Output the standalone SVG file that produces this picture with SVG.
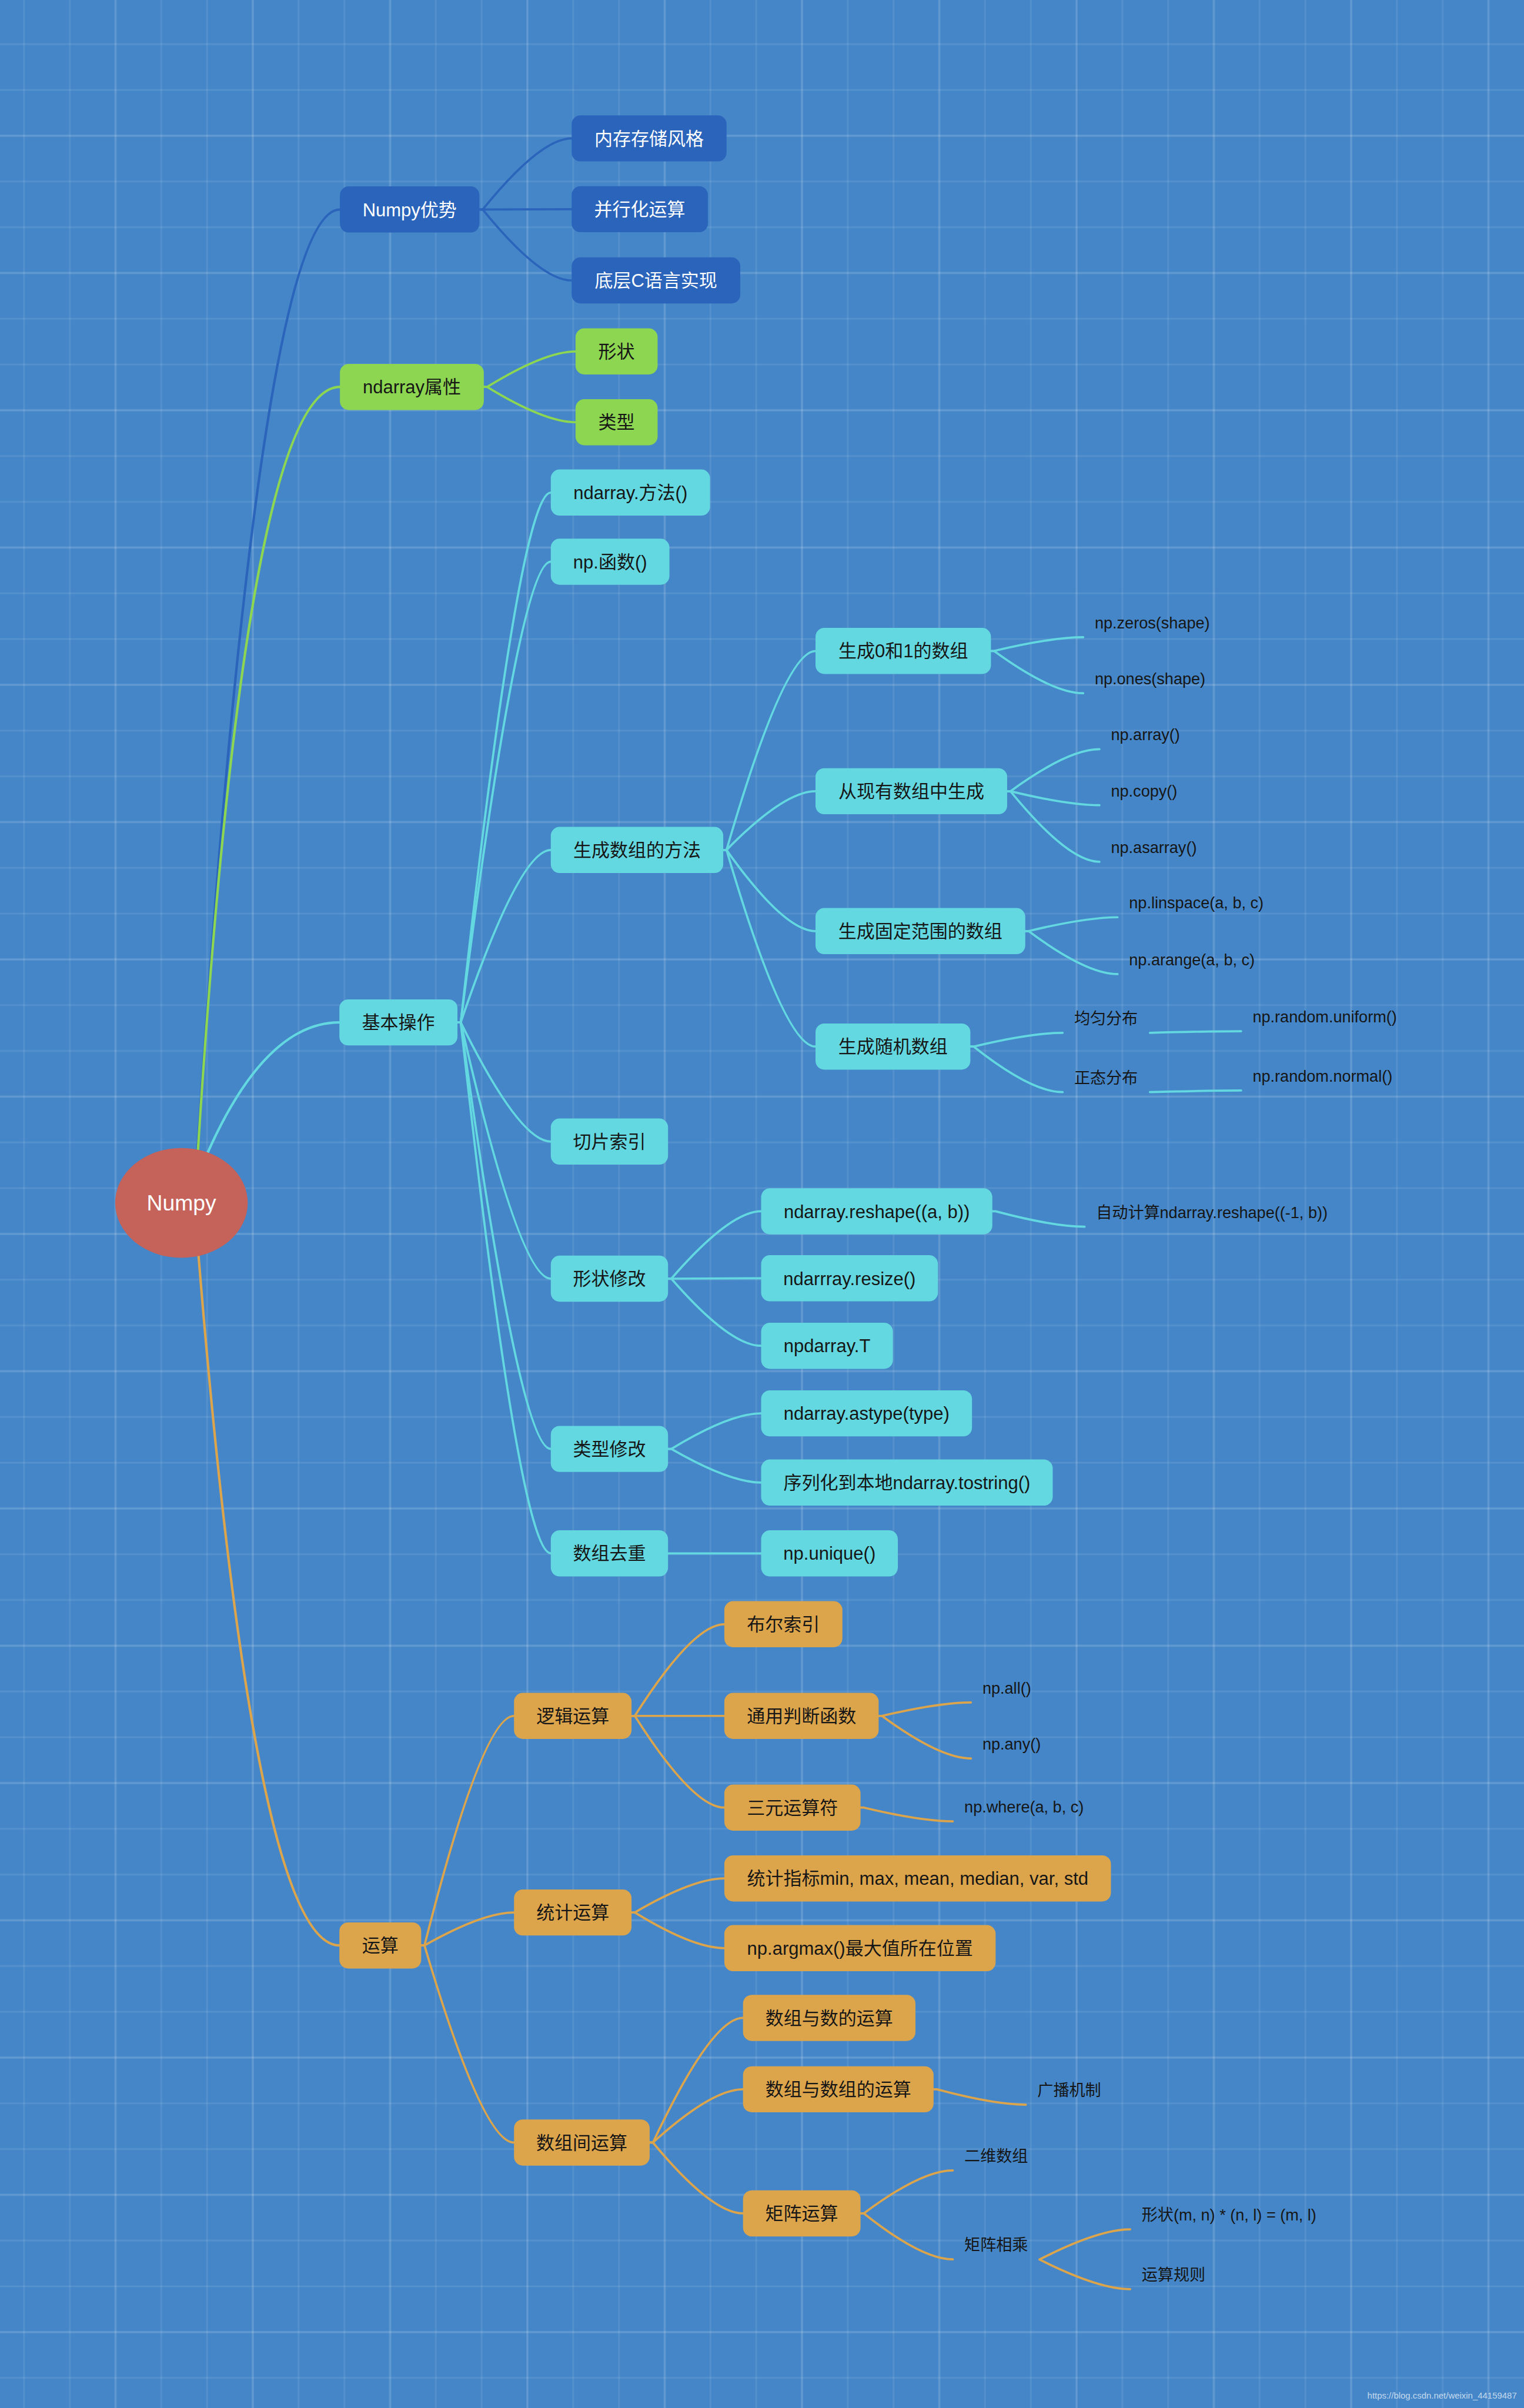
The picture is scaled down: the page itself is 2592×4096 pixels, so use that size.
<svg xmlns="http://www.w3.org/2000/svg" width="2592" height="4096" viewBox="0 0 2592 4096">
<defs>
<pattern id="grid" patternUnits="userSpaceOnUse" x="85.4" y="122.2" width="250" height="250">
<rect x="40.2" y="0" width="3" height="250" fill="#ffffff" fill-opacity="0.09"/>
<rect x="206.8" y="0" width="3" height="250" fill="#ffffff" fill-opacity="0.09"/>
<rect x="123.2" y="0" width="3.6" height="250" fill="#ffffff" fill-opacity="0.16"/>
<rect x="0" y="40.2" width="250" height="3" fill="#ffffff" fill-opacity="0.09"/>
<rect x="0" y="206.8" width="250" height="3" fill="#ffffff" fill-opacity="0.09"/>
<rect x="0" y="123.2" width="250" height="3.6" fill="#ffffff" fill-opacity="0.16"/>
</pattern>
<style>
.t{font-family:"Liberation Sans","Noto Sans CJK SC",sans-serif;font-size:33.2px;text-anchor:middle;fill:#161616}
.tw{fill:#ffffff}
.lf{font-family:"Liberation Sans","Noto Sans CJK SC",sans-serif;font-size:29px;fill:#161616}
.c{fill:none;stroke-width:4;stroke-linecap:round}
.cr{stroke-width:4.5}
.cb{stroke:#2A64BB}
.cg{stroke:#8DD651}
.cc{stroke:#63D8E0}
.co{stroke:#DCA54C}
.fb{fill:#2A64BB}
.fg{fill:#8DD651}
.fc{fill:#63D8E0}
.fo{fill:#DCA54C}
</style>
</defs>
<g transform="scale(0.934)">
<rect x="0" y="0" width="2780" height="4390" fill="#4486C8"/>
<rect x="0" y="0" width="2780" height="4390" fill="url(#grid)"/>

<g id="connectors">
<path class="c cr cb" d="M356,2150 Q470,381.5 619,381.5"/>
<path class="c cr cg" d="M357,2150 Q445,704.7 619,704.7"/>
<path class="c cr cc" d="M357,2150 Q470,1862 618,1862"/>
<path class="c cr co" d="M357,2230 Q460,3543 618,3543"/>
<path class="c cb" d="M871,381.5 L879,381.5 Q984,252 1041,252"/>
<path class="c cb" d="M871,381.5 L879,381.5 Q984,381 1041,381"/>
<path class="c cb" d="M871,381.5 L879,381.5 Q984,510.7 1041,510.7"/>
<path class="c cg" d="M879,704.7 L887,704.7 Q992,640 1048,640"/>
<path class="c cg" d="M879,704.7 L887,704.7 Q992,769 1048,769"/>
<path class="c cc" d="M831,1862 L839,1862 Q946,897 1003,897"/>
<path class="c cc" d="M831,1862 L839,1862 Q946,1023 1003,1023"/>
<path class="c cc" d="M831,1862 L839,1862 Q946,1548 1003,1548"/>
<path class="c cc" d="M831,1862 L839,1862 Q946,2079 1003,2079"/>
<path class="c cc" d="M831,1862 L839,1862 Q946,2328.7 1003,2328.7"/>
<path class="c cc" d="M831,1862 L839,1862 Q946,2638.8 1003,2638.8"/>
<path class="c cc" d="M831,1862 L839,1862 Q946,2829 1003,2829"/>
<path class="c cc" d="M1315,1548 L1323,1548 Q1428,1185.5 1485,1185.5"/>
<path class="c cc" d="M1315,1548 L1323,1548 Q1428,1441 1485,1441"/>
<path class="c cc" d="M1315,1548 L1323,1548 Q1428,1695.7 1485,1695.7"/>
<path class="c cc" d="M1315,1548 L1323,1548 Q1428,1906 1485,1906"/>
<path class="c cc" d="M1802,1185.5 L1810,1185.5 Q1916,1160.5 1972.5,1160.5"/>
<path class="c cc" d="M1802,1185.5 L1810,1185.5 Q1916,1262.5 1972.5,1262.5"/>
<path class="c cc" d="M1832,1441 L1840,1441 Q1945,1364.5 2002,1364.5"/>
<path class="c cc" d="M1832,1441 L1840,1441 Q1945,1466.5 2002,1466.5"/>
<path class="c cc" d="M1832,1441 L1840,1441 Q1945,1569.5 2002,1569.5"/>
<path class="c cc" d="M1865,1695.7 L1873,1695.7 Q1978,1670.5 2035,1670.5"/>
<path class="c cc" d="M1865,1695.7 L1873,1695.7 Q1978,1774 2035,1774"/>
<path class="c cc" d="M1765,1906 L1773,1906 Q1878,1881 1935,1881"/>
<path class="c cc" d="M1765,1906 L1773,1906 Q1878,1989 1935,1989"/>
<path class="c cc" d="M2094,1881 Q2202,1878 2260,1878"/>
<path class="c cc" d="M2094,1989 Q2202,1986 2260,1986"/>
<path class="c cc" d="M1214.5,2328.7 L1222.5,2328.7 Q1329,2206 1386,2206"/>
<path class="c cc" d="M1214.5,2328.7 L1222.5,2328.7 Q1329,2328 1386,2328"/>
<path class="c cc" d="M1214.5,2328.7 L1222.5,2328.7 Q1329,2451 1386,2451"/>
<path class="c cc" d="M1805,2206 L1813,2206 Q1918,2234 1975,2234"/>
<path class="c cc" d="M1214.5,2638.8 L1222.5,2638.8 Q1329,2574 1386,2574"/>
<path class="c cc" d="M1214.5,2638.8 L1222.5,2638.8 Q1329,2700 1386,2700"/>
<path class="c cc" d="M1214.5,2829 L1222.5,2829 Q1329,2829 1386,2829"/>
<path class="c co" d="M765,3543 L773,3543 Q879,3125 936,3125"/>
<path class="c co" d="M765,3543 L773,3543 Q879,3483 936,3483"/>
<path class="c co" d="M765,3543 L773,3543 Q879,3902 936,3902"/>
<path class="c co" d="M1148,3125 L1156,3125 Q1262,2958 1319,2958"/>
<path class="c co" d="M1148,3125 L1156,3125 Q1262,3125 1319,3125"/>
<path class="c co" d="M1148,3125 L1156,3125 Q1262,3292 1319,3292"/>
<path class="c co" d="M1598,3125 L1606,3125 Q1711,3100.5 1768,3100.5"/>
<path class="c co" d="M1598,3125 L1606,3125 Q1711,3202.5 1768,3202.5"/>
<path class="c co" d="M1565,3292 L1573,3292 Q1678,3317 1735,3317"/>
<path class="c co" d="M1148,3483 L1156,3483 Q1262,3421 1319,3421"/>
<path class="c co" d="M1148,3483 L1156,3483 Q1262,3548 1319,3548"/>
<path class="c co" d="M1181,3902 L1189,3902 Q1296,3675 1353,3675"/>
<path class="c co" d="M1181,3902 L1189,3902 Q1296,3805 1353,3805"/>
<path class="c co" d="M1181,3902 L1189,3902 Q1296,4031 1353,4031"/>
<path class="c co" d="M1698,3805 L1706,3805 Q1811,3833 1868,3833"/>
<path class="c co" d="M1565,4031 L1573,4031 Q1678,3952.7 1735,3952.7"/>
<path class="c co" d="M1565,4031 L1573,4031 Q1678,4114.7 1735,4114.7"/>
<path class="c co" d="M1893,4115 Q2000,4060 2058,4060"/>
<path class="c co" d="M1893,4115 Q2000,4169 2058,4169"/>
</g>

<g id="root"><ellipse cx="330.4" cy="2190.7" rx="120.7" ry="100" fill="#C5625A"/><text class="t tw" x="330.4" y="2205" style="font-size:40px">Numpy</text></g>

<g id="n_adv"><rect class="fb" x="619" y="339.5" width="254" height="84" rx="16"/><text class="t tw" x="746" y="393.5">Numpy优势</text></g>
<g id="n_adv_1"><rect class="fb" x="1041" y="210" width="282" height="84" rx="16"/><text class="t tw" x="1182" y="264">内存存储风格</text></g>
<g id="n_adv_2"><rect class="fb" x="1041" y="339" width="248" height="84" rx="16"/><text class="t tw" x="1165" y="393">并行化运算</text></g>
<g id="n_adv_3"><rect class="fb" x="1041" y="468.7" width="307" height="84" rx="16"/><text class="t tw" x="1194.5" y="522.7">底层C语言实现</text></g>

<g id="n_attr"><rect class="fg" x="619" y="662.7" width="262" height="84" rx="16"/><text class="t" x="750" y="716.7">ndarray属性</text></g>
<g id="n_attr_1"><rect class="fg" x="1048" y="598" width="149.5" height="84" rx="16"/><text class="t" x="1122.7" y="652">形状</text></g>
<g id="n_attr_2"><rect class="fg" x="1048" y="727" width="149.5" height="84" rx="16"/><text class="t" x="1122.7" y="781">类型</text></g>

<g id="n_basic"><rect class="fc" x="618" y="1820" width="215" height="84" rx="16"/><text class="t" x="725.5" y="1874">基本操作</text></g>
<g id="n_b1"><rect class="fc" x="1003" y="855" width="290" height="84" rx="16"/><text class="t" x="1148" y="909">ndarray.方法()</text></g>
<g id="n_b2"><rect class="fc" x="1003" y="981" width="216" height="84" rx="16"/><text class="t" x="1111" y="1035">np.函数()</text></g>
<g id="n_b3"><rect class="fc" x="1003" y="1506" width="314" height="84" rx="16"/><text class="t" x="1160" y="1560">生成数组的方法</text></g>
<g id="n_b3_1"><rect class="fc" x="1485" y="1143.5" width="319.5" height="84" rx="16"/><text class="t" x="1644.7" y="1197.5">生成0和1的数组</text></g>
<g id="n_b3_2"><rect class="fc" x="1485" y="1399" width="349" height="84" rx="16"/><text class="t" x="1659.5" y="1453">从现有数组中生成</text></g>
<g id="n_b3_3"><rect class="fc" x="1485" y="1653.7" width="382" height="84" rx="16"/><text class="t" x="1676" y="1707.7">生成固定范围的数组</text></g>
<g id="n_b3_4"><rect class="fc" x="1485" y="1864" width="282" height="84" rx="16"/><text class="t" x="1626" y="1918">生成随机数组</text></g>
<g id="n_b4"><rect class="fc" x="1003" y="2037" width="213.5" height="84" rx="16"/><text class="t" x="1109.7" y="2091">切片索引</text></g>
<g id="n_b5"><rect class="fc" x="1003" y="2286.7" width="213.5" height="84" rx="16"/><text class="t" x="1109.7" y="2340.7">形状修改</text></g>
<g id="n_b5_1"><rect class="fc" x="1386" y="2164" width="421" height="84" rx="16"/><text class="t" x="1596.5" y="2218">ndarray.reshape((a, b))</text></g>
<g id="n_b5_2"><rect class="fc" x="1386" y="2286" width="322" height="84" rx="16"/><text class="t" x="1547" y="2340">ndarrray.resize()</text></g>
<g id="n_b5_3"><rect class="fc" x="1386" y="2409" width="240" height="84" rx="16"/><text class="t" x="1506" y="2463">npdarray.T</text></g>
<g id="n_b6"><rect class="fc" x="1003" y="2596.8" width="213.5" height="84" rx="16"/><text class="t" x="1109.7" y="2650.8">类型修改</text></g>
<g id="n_b6_1"><rect class="fc" x="1386" y="2532" width="384" height="84" rx="16"/><text class="t" x="1578" y="2586">ndarray.astype(type)</text></g>
<g id="n_b6_2"><rect class="fc" x="1386" y="2658" width="531" height="84" rx="16"/><text class="t" x="1651.5" y="2712">序列化到本地ndarray.tostring()</text></g>
<g id="n_b7"><rect class="fc" x="1003" y="2787" width="213.5" height="84" rx="16"/><text class="t" x="1109.7" y="2841">数组去重</text></g>
<g id="n_b7_1"><rect class="fc" x="1386" y="2787" width="249" height="84" rx="16"/><text class="t" x="1510.5" y="2841">np.unique()</text></g>

<g id="n_ops"><rect class="fo" x="618" y="3501" width="149" height="84" rx="16"/><text class="t" x="692.5" y="3555">运算</text></g>
<g id="n_o1"><rect class="fo" x="936" y="3083" width="214" height="84" rx="16"/><text class="t" x="1043" y="3137">逻辑运算</text></g>
<g id="n_o1_1"><rect class="fo" x="1319" y="2916" width="215" height="84" rx="16"/><text class="t" x="1426.5" y="2970">布尔索引</text></g>
<g id="n_o1_2"><rect class="fo" x="1319" y="3083" width="281" height="84" rx="16"/><text class="t" x="1459.5" y="3137">通用判断函数</text></g>
<g id="n_o1_3"><rect class="fo" x="1319" y="3250" width="248" height="84" rx="16"/><text class="t" x="1443" y="3304">三元运算符</text></g>
<g id="n_o2"><rect class="fo" x="936" y="3441" width="214" height="84" rx="16"/><text class="t" x="1043" y="3495">统计运算</text></g>
<g id="n_o2_1"><rect class="fo" x="1319" y="3379" width="704" height="84" rx="16"/><text class="t" x="1671" y="3433">统计指标min, max, mean, median, var, std</text></g>
<g id="n_o2_2"><rect class="fo" x="1319" y="3506" width="494" height="84" rx="16"/><text class="t" x="1566" y="3560">np.argmax()最大值所在位置</text></g>
<g id="n_o3"><rect class="fo" x="936" y="3860" width="247" height="84" rx="16"/><text class="t" x="1059.5" y="3914">数组间运算</text></g>
<g id="n_o3_1"><rect class="fo" x="1353" y="3633" width="314" height="84" rx="16"/><text class="t" x="1510" y="3687">数组与数的运算</text></g>
<g id="n_o3_2"><rect class="fo" x="1353" y="3763" width="347" height="84" rx="16"/><text class="t" x="1526.5" y="3817">数组与数组的运算</text></g>
<g id="n_o3_3"><rect class="fo" x="1353" y="3989" width="214" height="84" rx="16"/><text class="t" x="1460" y="4043">矩阵运算</text></g>

<g id="leaves">
<text class="lf" x="1993.5" y="1144.5">np.zeros(shape)</text>
<text class="lf" x="1993.5" y="1246.5">np.ones(shape)</text>
<text class="lf" x="2023" y="1348.5">np.array()</text>
<text class="lf" x="2023" y="1450.5">np.copy()</text>
<text class="lf" x="2023" y="1553.5">np.asarray()</text>
<text class="lf" x="2056" y="1654.5">np.linspace(a, b, c)</text>
<text class="lf" x="2056" y="1758">np.arange(a, b, c)</text>
<text class="lf" x="1956" y="1865">均匀分布</text>
<text class="lf" x="1956" y="1973">正态分布</text>
<text class="lf" x="2281" y="1862">np.random.uniform()</text>
<text class="lf" x="2281" y="1970">np.random.normal()</text>
<text class="lf" x="1996" y="2218">自动计算ndarray.reshape((-1, b))</text>
<text class="lf" x="1789" y="3084.5">np.all()</text>
<text class="lf" x="1789" y="3186.5">np.any()</text>
<text class="lf" x="1756" y="3301">np.where(a, b, c)</text>
<text class="lf" x="1889" y="3817">广播机制</text>
<text class="lf" x="1756" y="3936.7">二维数组</text>
<text class="lf" x="1756" y="4098.7">矩阵相乘</text>
<text class="lf" x="2079" y="4044">形状(m, n) * (n, l) = (m, l)</text>
<text class="lf" x="2079" y="4153">运算规则</text>
</g>

<text x="2762" y="4368" style="font-family:'Liberation Sans',sans-serif;font-size:16px;text-anchor:end" fill="#ffffff" fill-opacity="0.7">https://blog.csdn.net/weixin_44159487</text>
</g>
</svg>
